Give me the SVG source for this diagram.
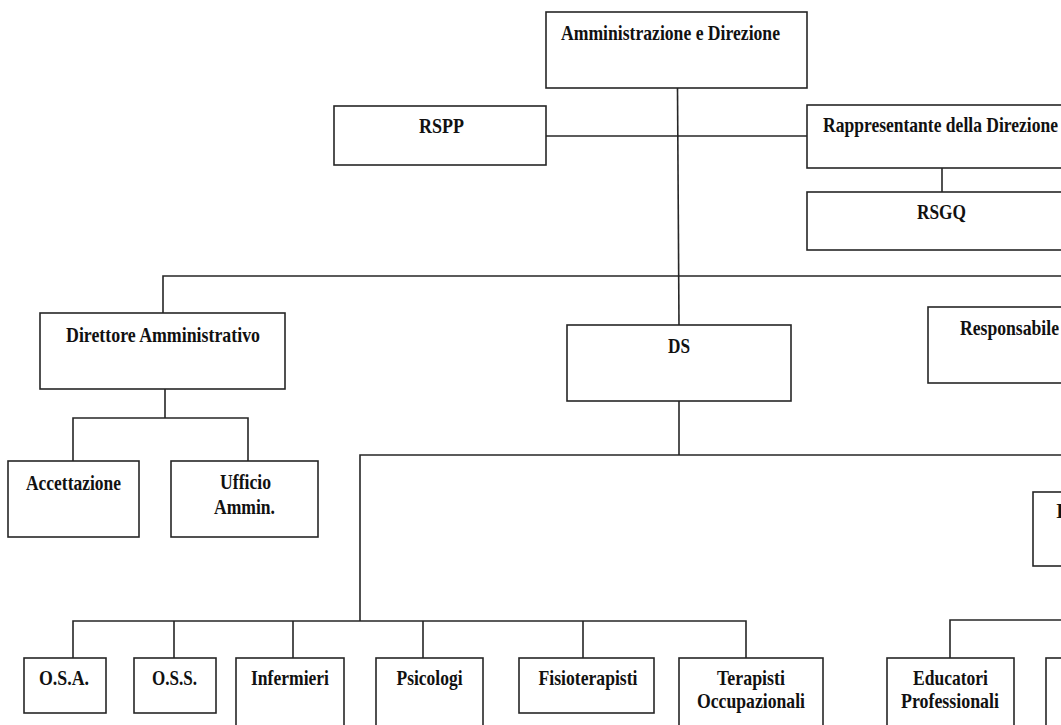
<svg xmlns="http://www.w3.org/2000/svg" width="1061" height="725" viewBox="0 0 1061 725">
<style>
.b{fill:#fff;stroke:#262626;stroke-width:1.6}
.c{fill:none;stroke:#262626;stroke-width:1.6}
text{font-family:"Liberation Serif","Times New Roman",serif;font-weight:bold;font-size:21px;fill:#111;text-anchor:middle}
</style>
<rect width="1061" height="725" fill="#fff"/>
<g id="connectors">
<path class="c" d="M677.5,88 L679,325"/>
<path class="c" d="M546,136 H807"/>
<path class="c" d="M942,168 V192"/>
<path class="c" d="M163,313 V276 H1061"/>
<path class="c" d="M679,401 V455"/>
<path class="c" d="M360,621 V455 H1061"/>
<path class="c" d="M73,658 V621 H746 V658 M174,621 V658 M293,621 V658 M423,621 V658 M583,621 V658"/>
<path class="c" d="M165,389 V418 M73,461 V418 H248 V461"/>
<path class="c" d="M950,658 V620 H1061"/>
</g>
<g id="n-amm"><rect class="b" x="546" y="12" width="261" height="76"/><text x="670.5" y="40" textLength="219" lengthAdjust="spacingAndGlyphs">Amministrazione e Direzione</text></g>
<g id="n-rspp"><rect class="b" x="334" y="106" width="212" height="59"/><text x="441.5" y="133" textLength="45" lengthAdjust="spacingAndGlyphs">RSPP</text></g>
<g id="n-rapp"><rect class="b" x="807" y="105" width="270" height="63"/><text x="940.5" y="132" textLength="235" lengthAdjust="spacingAndGlyphs">Rappresentante della Direzione</text></g>
<g id="n-rsgq"><rect class="b" x="807" y="192" width="270" height="58"/><text x="941.5" y="219" textLength="49" lengthAdjust="spacingAndGlyphs">RSGQ</text></g>
<g id="n-diramm"><rect class="b" x="40" y="313" width="245" height="76"/><text x="163" y="342" textLength="194" lengthAdjust="spacingAndGlyphs">Direttore Amministrativo</text></g>
<g id="n-ds"><rect class="b" x="567" y="325" width="224" height="76"/><text x="679" y="353" textLength="22" lengthAdjust="spacingAndGlyphs">DS</text></g>
<g id="n-resp"><rect class="b" x="928" y="307" width="160" height="76"/><text x="1009.5" y="335" textLength="99" lengthAdjust="spacingAndGlyphs">Responsabile</text></g>
<g id="n-acc"><rect class="b" x="8" y="461" width="131" height="76"/><text x="73.5" y="490" textLength="95" lengthAdjust="spacingAndGlyphs">Accettazione</text></g>
<g id="n-uff"><rect class="b" x="171" y="461" width="147" height="76"/><text x="245.5" y="489" textLength="51" lengthAdjust="spacingAndGlyphs">Ufficio</text><text x="244.5" y="514" textLength="61" lengthAdjust="spacingAndGlyphs">Ammin.</text></g>
<g id="n-i"><rect class="b" x="1033" y="492" width="60" height="74"/><text x="1056" y="518" style="text-anchor:start">I</text></g>
<g id="n-osa"><rect class="b" x="24" y="658" width="82" height="55"/><text x="64" y="685" textLength="50" lengthAdjust="spacingAndGlyphs">O.S.A.</text></g>
<g id="n-oss"><rect class="b" x="134" y="658" width="82" height="55"/><text x="174.5" y="685" textLength="45" lengthAdjust="spacingAndGlyphs">O.S.S.</text></g>
<g id="n-inf"><rect class="b" x="236" y="658" width="108" height="80"/><text x="290" y="685" textLength="78" lengthAdjust="spacingAndGlyphs">Infermieri</text></g>
<g id="n-psi"><rect class="b" x="376" y="658" width="107" height="80"/><text x="429.5" y="685" textLength="66" lengthAdjust="spacingAndGlyphs">Psicologi</text></g>
<g id="n-fis"><rect class="b" x="519" y="658" width="135" height="55"/><text x="588" y="685" textLength="99" lengthAdjust="spacingAndGlyphs">Fisioterapisti</text></g>
<g id="n-ter"><rect class="b" x="679" y="658" width="144" height="80"/><text x="751" y="685" textLength="68" lengthAdjust="spacingAndGlyphs">Terapisti</text><text x="751" y="708" textLength="108" lengthAdjust="spacingAndGlyphs">Occupazionali</text></g>
<g id="n-edu"><rect class="b" x="887" y="658" width="127" height="80"/><text x="950.5" y="685" textLength="75" lengthAdjust="spacingAndGlyphs">Educatori</text><text x="950" y="708" textLength="98" lengthAdjust="spacingAndGlyphs">Professionali</text></g>
<g id="n-next"><rect class="b" x="1046" y="658" width="60" height="80"/></g>
</svg>
